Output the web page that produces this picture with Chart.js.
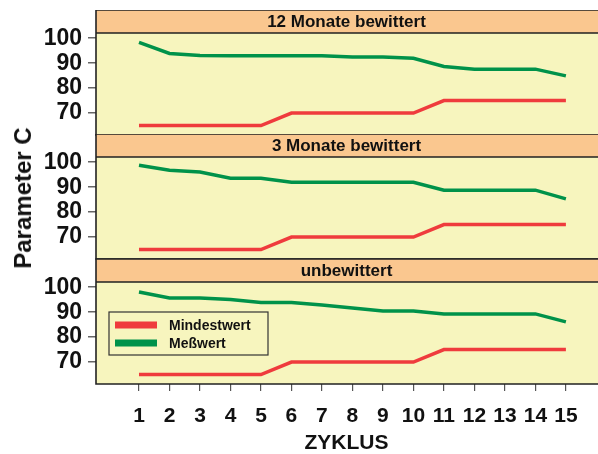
<!DOCTYPE html>
<html>
<head>
<meta charset="utf-8">
<script src="https://cdn.jsdelivr.net/npm/chart.js@4.4.0/dist/chart.umd.min.js"></script>
<style>
  body { margin: 0; background: #fff; }
  #wrap { position: relative; width: 598px; height: 454px; overflow: hidden; font-family: "Liberation Sans", Arial, sans-serif; }
  #wrap canvas { position: absolute; left: 0; }
  #ytitle {
    position: absolute; left: 23px; top: 198px;
    transform: translate(-50%, -50%) rotate(-90deg);
    font-weight: bold; font-size: 24px; white-space: nowrap; color: #111;
  }
</style>
</head>
<body>
<div id="wrap">
  <canvas id="c1" width="598" height="127" style="top:10px"></canvas>
  <canvas id="c2" width="598" height="127" style="top:134px"></canvas>
  <canvas id="c3" width="598" height="196" style="top:258px"></canvas>
  <div id="ytitle">Parameter C</div>
</div>
<script>
// data
const zyklus = [1, 2, 3, 4, 5, 6, 7, 8, 9, 10, 11, 12, 13, 14, 15];
const yTicks = [70, 80, 90, 100];
const panelTitles = ["12 Monate bewittert", "3 Monate bewittert", "unbewittert"];
const seriesNames = ["Mindestwert", "Meßwert"];

const mindest12 = [65, 65, 65, 65, 65, 70, 70, 70, 70, 70, 75, 75, 75, 75, 75];
const mess12 = [98.3, 93.9, 93.1, 93, 93, 93, 93, 92.5, 92.5, 92, 88.7, 87.6, 87.6, 87.6, 84.9];

const mindest3 = [65, 65, 65, 65, 65, 70, 70, 70, 70, 70, 75, 75, 75, 75, 75];
const mess3 = [98.8, 96.8, 96.1, 93.6, 93.6, 92, 92, 92, 92, 92, 88.8, 88.8, 88.8, 88.8, 85.3];

const mindestUnbew = [65, 65, 65, 65, 65, 70, 70, 70, 70, 70, 75, 75, 75, 75, 75];
const messUnbew = [98.1, 95.7, 95.7, 95.1, 93.9, 93.9, 92.9, 91.7, 90.5, 90.5, 89.3, 89.3, 89.3, 89.3, 86.1];

const RED = "#EF3B3D";
const GREEN = "#00924A";
const FONT = '"Liberation Sans", Arial, sans-serif';
const HEADER_H = 23;

// orange header strip + yellow plot area + frame
const panelFrame = {
  id: "panelFrame",
  beforeDraw(chart, args, opts) {
    const { ctx, chartArea: a } = chart;
    const top = a.top - HEADER_H;
    ctx.save();
    ctx.fillStyle = "#FAC78F";
    ctx.fillRect(a.left, top, chart.width - a.left, HEADER_H);
    ctx.fillStyle = "#F7F5BE";
    ctx.fillRect(a.left, a.top, chart.width - a.left, a.bottom - a.top);
    ctx.restore();
  },
  afterDraw(chart, args, opts) {
    const { ctx, chartArea: a } = chart;
    const top = a.top - HEADER_H;
    ctx.save();
    ctx.strokeStyle = "#222";
    ctx.lineWidth = 1.6;
    ctx.beginPath();
    ctx.moveTo(chart.width, top);
    ctx.lineTo(a.left, top);
    ctx.lineTo(a.left, a.bottom);
    ctx.lineTo(chart.width, a.bottom);
    ctx.moveTo(a.left, a.top);
    ctx.lineTo(chart.width, a.top);
    ctx.stroke();
    ctx.fillStyle = "#111";
    ctx.font = "bold 17px " + FONT;
    ctx.textAlign = "center";
    ctx.textBaseline = "middle";
    ctx.fillText(opts.title, (a.left + a.right) / 2, top + HEADER_H / 2 + 1);
    ctx.restore();
  }
};

// legend box inside the bottom panel
const legendBox = {
  id: "legendBox",
  afterDatasetsDraw(chart, args, opts) {
    if (!opts.show) return;
    const { ctx, chartArea: a } = chart;
    const x = a.left + 13, y = a.top + 30, w = 159, h = 43;
    ctx.save();
    ctx.strokeStyle = "#333";
    ctx.lineWidth = 1.2;
    ctx.strokeRect(x, y, w, h);
    chart.data.datasets.forEach((ds, i) => {
      const ly = y + 13 + i * 18;
      ctx.strokeStyle = ds.borderColor;
      ctx.lineWidth = 7;
      ctx.beginPath();
      ctx.moveTo(x + 6, ly);
      ctx.lineTo(x + 48, ly);
      ctx.stroke();
      ctx.fillStyle = "#111";
      ctx.font = "bold 14px " + FONT;
      ctx.textBaseline = "middle";
      ctx.fillText(ds.label, x + 60, ly + 1);
    });
    ctx.restore();
  }
};

function toPoints(arr) {
  return arr.map((v, i) => ({ x: zyklus[i], y: v }));
}

function makePanel(id, title, mindest, mess, bottom) {
  new Chart(document.getElementById(id), {
    type: "line",
    data: {
      datasets: [
        { label: seriesNames[0], data: toPoints(mindest), borderColor: RED, backgroundColor: RED, borderWidth: 3.5, pointRadius: 0, tension: 0 },
        { label: seriesNames[1], data: toPoints(mess), borderColor: GREEN, backgroundColor: GREEN, borderWidth: 3.5, pointRadius: 0, tension: 0 }
      ]
    },
    options: {
      responsive: false,
      animation: false,
      layout: { padding: { top: bottom ? 24 : 23, bottom: bottom ? 0 : 2, left: 0, right: 1 } },
      plugins: {
        legend: { display: false },
        tooltip: { enabled: false },
        panelFrame: { title: title },
        legendBox: { show: bottom }
      },
      scales: {
        x: {
          type: "linear",
          min: -0.41,
          max: 16.02,
          display: bottom,
          afterBuildTicks: (s) => { s.ticks = zyklus.map(v => ({ value: v })); },
          afterFit: (s) => { s.height = bottom ? 70 : 0; },
          grid: { drawOnChartArea: false, drawTicks: true, tickLength: 7, color: "#555", lineWidth: 1.2 },
          border: { display: false },
          ticks: {
            autoSkip: false, maxRotation: 0, padding: 13, color: "#111",
            font: { family: FONT, size: 21, weight: "bold" }
          },
          title: {
            display: true, text: "ZYKLUS", color: "#111",
            font: { family: FONT, size: 21, weight: "bold", lineHeight: 1 },
            padding: { top: 0, bottom: 0 }
          }
        },
        y: {
          min: 61.2,
          max: 102.1,
          afterBuildTicks: (s) => { s.ticks = yTicks.map(v => ({ value: v })); },
          afterFit: (s) => { s.width = 96; s.paddingTop = 0; s.paddingBottom = 0; },
          grid: { drawOnChartArea: false, drawTicks: true, tickLength: 8, color: "#666", lineWidth: 1.5 },
          border: { display: false },
          ticks: {
            padding: 6, color: "#111",
            font: { family: FONT, size: 23, weight: "bold" }
          }
        }
      }
    },
    plugins: [panelFrame, legendBox]
  });
}

makePanel("c1", panelTitles[0], mindest12, mess12, false);
makePanel("c2", panelTitles[1], mindest3, mess3, false);
makePanel("c3", panelTitles[2], mindestUnbew, messUnbew, true);
</script>
</body>
</html>
